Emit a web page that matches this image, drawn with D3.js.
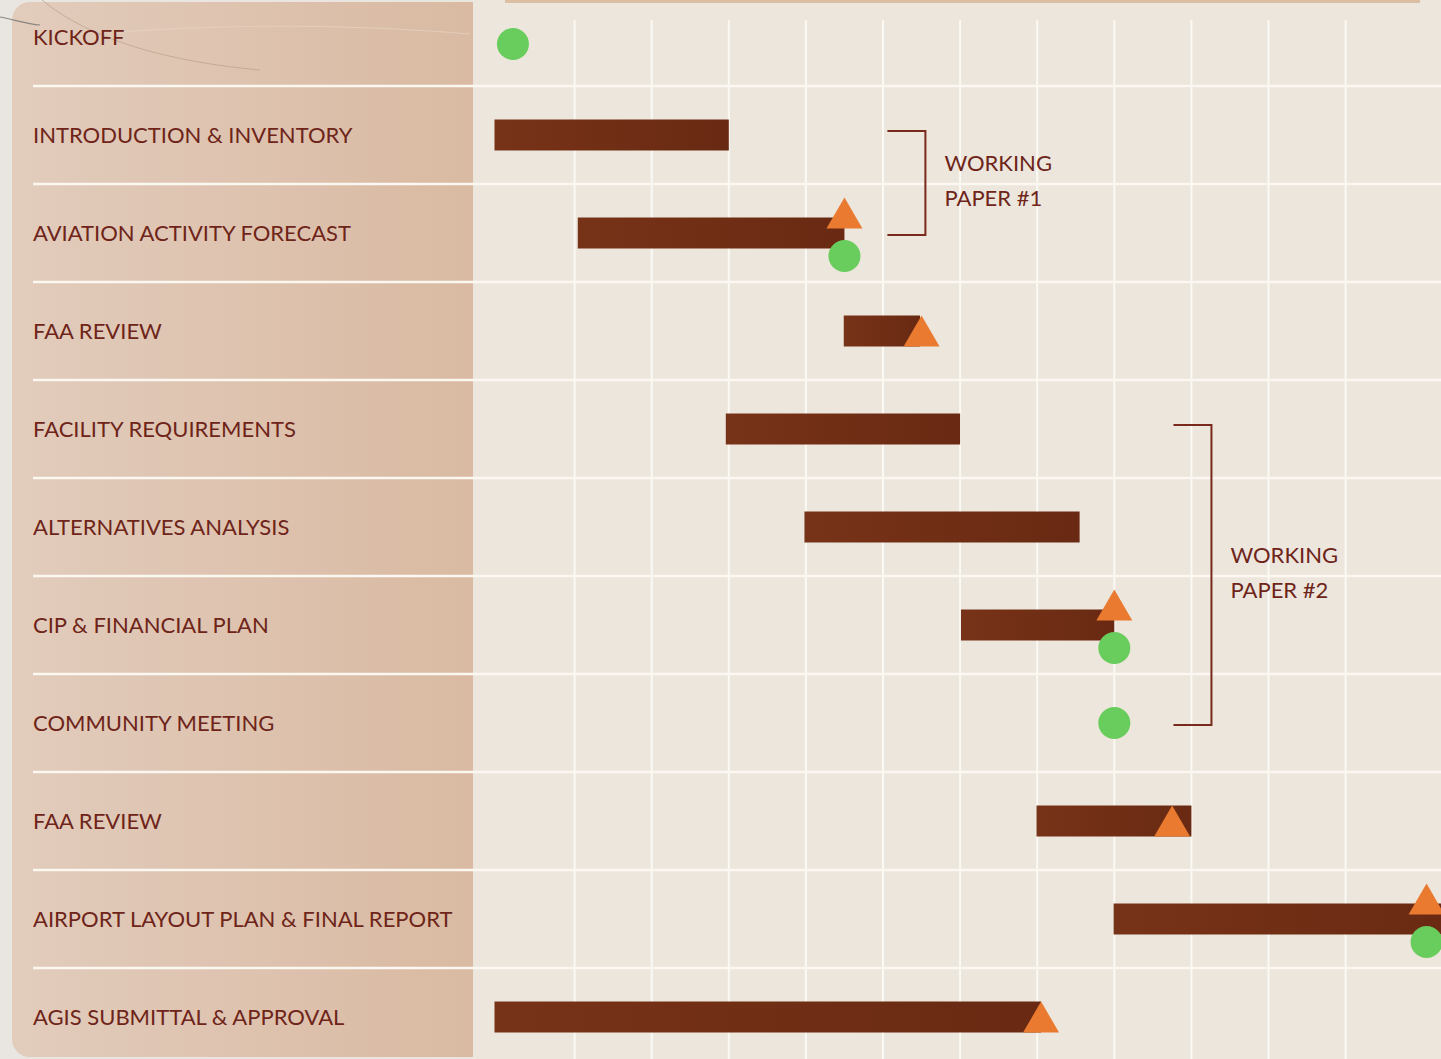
<!DOCTYPE html>
<html>
<head>
<meta charset="utf-8">
<script src="https://cdn.jsdelivr.net/npm/d3@7"></script>
<style>
  html, body { margin: 0; padding: 0; background: #e9e5e0; overflow: hidden; }
  svg { display: block; }
</style>
</head>
<body>
<div id="chart"></div>
<script>
// Task names, one row each
const tasks = [
    "KICKOFF",
    "INTRODUCTION & INVENTORY",
    "AVIATION ACTIVITY FORECAST",
    "FAA REVIEW",
    "FACILITY REQUIREMENTS",
    "ALTERNATIVES ANALYSIS",
    "CIP & FINANCIAL PLAN",
    "COMMUNITY MEETING",
    "FAA REVIEW",
    "AIRPORT LAYOUT PLAN & FINAL REPORT",
    "AGIS SUBMITTAL & APPROVAL"
];

// Bar spans in months (null = no bar)
const barStart = [null, 0, 1.08, 4.53, 3, 4.02, 6.05, null, 7.03, 8.03, 0];
const barEnd   = [null, 3, 4.5, 5.48, 6, 7.55, 8, null, 9, 12.6, 7.05];

// Deliverables (orange triangles) and meetings (green dots), in months
const deliverables = [null, null, 4.5, 5.5, null, null, 8, null, 8.75, 12.05, 7.05];
const meetings     = [0.2, null, 4.5, null, null, null, 8, 8, null, 12.05, null];

// Month grid lines
const gridMonths = [1, 2, 3, 4, 5, 6, 7, 8, 9, 10, 11];

// Working paper brackets
const paperLabels = [["WORKING", "PAPER #1"], ["WORKING", "PAPER #2"]];
const paperFromRow = [1, 4];
const paperToRow = [2, 7];
const paperMonth = [5.55, 9.26];

const width = 1441;
const height = 1059;
const panelRight = 473;

const svg = d3.select("#chart")
    .append("svg")
    .attr("width", width)
    .attr("height", height);

const defs = svg.append("defs");

const panelGrad = defs.append("linearGradient")
    .attr("id", "panelGrad")
    .attr("x1", "0%").attr("y1", "0%")
    .attr("x2", "100%").attr("y2", "0%");
panelGrad.append("stop").attr("offset", "0%").attr("stop-color", "#e2ccbc");
panelGrad.append("stop").attr("offset", "100%").attr("stop-color", "#d9b9a1");

const barGrad = defs.append("linearGradient")
    .attr("id", "barGrad")
    .attr("x1", "0%").attr("y1", "0%")
    .attr("x2", "100%").attr("y2", "0%");
barGrad.append("stop").attr("offset", "0%").attr("stop-color", "#773318");
barGrad.append("stop").attr("offset", "100%").attr("stop-color", "#692912");

// Scales
const x = d3.scaleLinear()
    .domain([0, 12.5])
    .range([497.5, 497.5 + 12.5 * 77.1]);

const y = d3.scaleBand()
    .domain(d3.range(tasks.length))
    .range([-12, 1066])
    .paddingInner(0);

const rowMid = i => y(i) + y.bandwidth() / 2;

// Chart background
svg.append("rect")
    .attr("x", panelRight)
    .attr("y", 0)
    .attr("width", width - panelRight)
    .attr("height", height)
    .attr("fill", "#ece6dc");

// thin tan edge at top
svg.append("rect")
    .attr("x", 505)
    .attr("y", 0)
    .attr("width", 915)
    .attr("height", 3)
    .attr("fill", "#dcbea3");

// Label panel
svg.append("rect")
    .attr("x", 12)
    .attr("y", 2)
    .attr("width", panelRight - 12 + 16)
    .attr("height", 1055)
    .attr("rx", 18)
    .attr("fill", "url(#panelGrad)");
svg.append("rect")
    .attr("x", panelRight)
    .attr("y", 0)
    .attr("width", 20)
    .attr("height", height)
    .attr("fill", "#ece6dc");

// decorative swoosh
svg.append("path")
    .attr("d", "M0,17 C15,20 28,24 40,25")
    .attr("fill", "none")
    .attr("stroke", "#8a8580")
    .attr("stroke-width", 1.2);
svg.append("path")
    .attr("d", "M42,0 C90,40 170,62 260,70")
    .attr("fill", "none")
    .attr("stroke", "#b9a08c")
    .attr("stroke-opacity", 0.7)
    .attr("stroke-width", 1);
svg.append("path")
    .attr("d", "M120,32 C230,24 350,24 470,34")
    .attr("fill", "none")
    .attr("stroke", "#ead9cc")
    .attr("stroke-opacity", 0.6)
    .attr("stroke-width", 1);

// Vertical grid lines
svg.append("g")
    .selectAll("line")
    .data(gridMonths)
    .enter().append("line")
    .attr("x1", d => x(d))
    .attr("x2", d => x(d))
    .attr("y1", 20)
    .attr("y2", height)
    .attr("stroke", "#fbf9f4")
    .attr("stroke-width", 2);

// Horizontal row separators
svg.append("g")
    .selectAll("line")
    .data(d3.range(1, tasks.length))
    .enter().append("line")
    .attr("x1", 33)
    .attr("x2", width)
    .attr("y1", d => y(d))
    .attr("y2", d => y(d))
    .attr("stroke", "#fbf8f2")
    .attr("stroke-width", 2.5);

// Task labels
svg.append("g")
    .selectAll("text")
    .data(tasks)
    .enter().append("text")
    .attr("x", 33)
    .attr("y", (d, i) => rowMid(i))
    .attr("dy", "0.36em")
    .attr("fill", "#6e2419")
    .style("font-family", "Lato, 'Noto Sans', sans-serif")
    .style("font-size", "22px")
    .text(d => d);

// Bars
const barH = 31;
svg.append("g")
    .selectAll("rect")
    .data(d3.range(tasks.length).filter(i => barStart[i] !== null))
    .enter().append("rect")
    .attr("x", i => x(barStart[i]) - 3)
    .attr("y", i => rowMid(i) - barH / 2)
    .attr("width", i => x(barEnd[i]) - x(barStart[i]) + 3)
    .attr("height", barH)
    .attr("fill", "url(#barGrad)");

// Triangles (deliverables)
const triW = 36, triH = 31;
svg.append("g")
    .selectAll("path")
    .data(d3.range(tasks.length).filter(i => deliverables[i] !== null))
    .enter().append("path")
    .attr("d", i => {
        const cx = x(deliverables[i]);
        const shift = meetings[i] !== null ? -20 : 0;
        const base = rowMid(i) + barH / 2 + shift;
        return `M${cx - triW / 2},${base} L${cx},${base - triH} L${cx + triW / 2},${base} Z`;
    })
    .attr("fill", "#e97a30");

// Circles (meetings)
svg.append("g")
    .selectAll("circle")
    .data(d3.range(tasks.length).filter(i => meetings[i] !== null))
    .enter().append("circle")
    .attr("cx", i => x(meetings[i]))
    .attr("cy", i => {
        const shift = deliverables[i] !== null ? 23 : 0;
        return rowMid(i) + shift + (i === 0 ? 7 : 0);
    })
    .attr("r", 16)
    .attr("fill", "#68cd5c");

// Working paper brackets
const arm = 38;
paperLabels.forEach((lines, k) => {
    const vx = x(paperMonth[k]);
    const top = rowMid(paperFromRow[k]) - 4;
    const bottom = rowMid(paperToRow[k]) + 2;
    svg.append("path")
        .attr("d", `M${vx - arm},${top} H${vx} V${bottom} H${vx - arm}`)
        .attr("fill", "none")
        .attr("stroke", "#7a2a1c")
        .attr("stroke-width", 2);
    const mid = (top + bottom) / 2 - 2;
    svg.append("g")
        .selectAll("text")
        .data(lines)
        .enter().append("text")
        .attr("x", vx + 19)
        .attr("y", (d, j) => mid + (j - 0.5) * 35)
        .attr("dy", "0.36em")
        .attr("fill", "#6e2419")
        .style("font-family", "Lato, 'Noto Sans', sans-serif")
        .style("font-size", "22px")
        .text(d => d);
});
</script>
</body>
</html>
